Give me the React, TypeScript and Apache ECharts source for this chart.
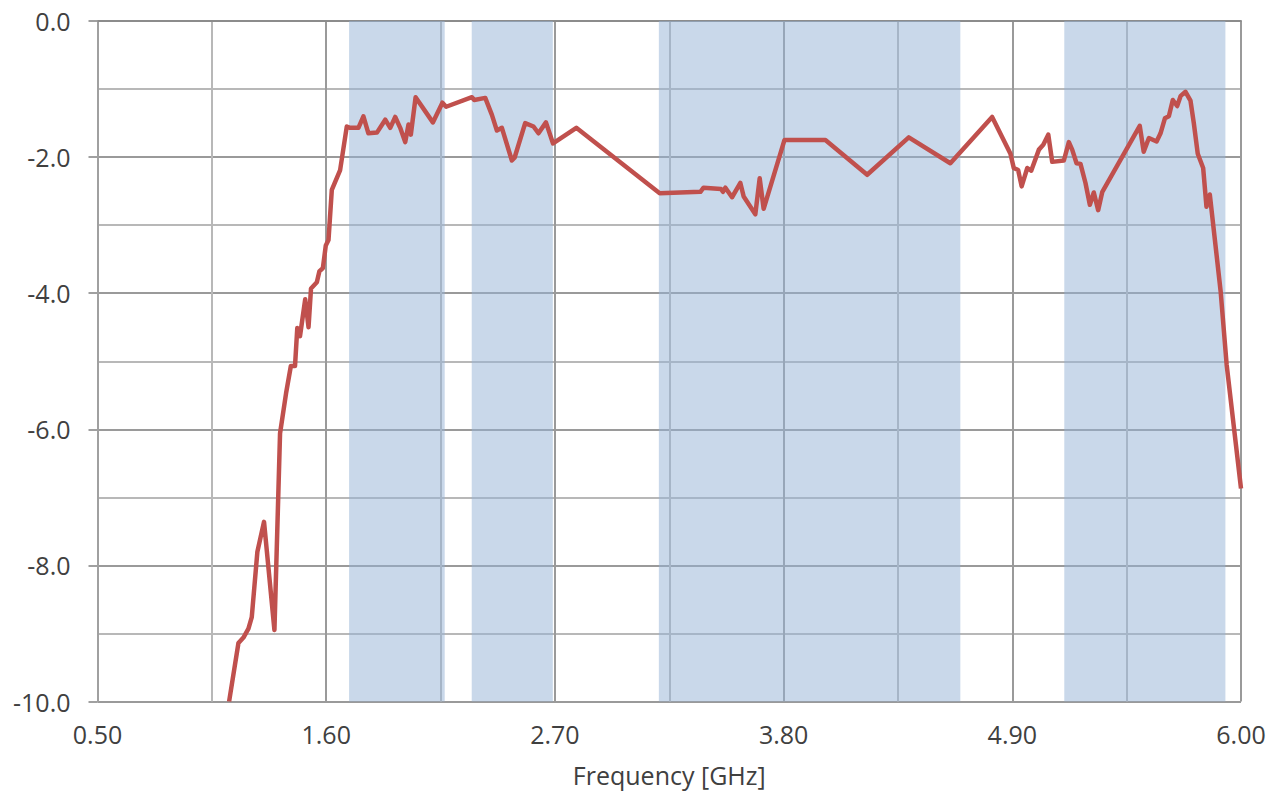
import React, { useEffect, useRef } from "react";
import * as echarts from "echarts";

const freqGHz = [
  1.133, 1.178, 1.202, 1.226, 1.242, 1.269, 1.301, 1.351, 1.378, 1.407, 1.43, 1.45, 1.461, 1.474, 1.499,
  1.515, 1.527, 1.555, 1.567, 1.584, 1.598, 1.611, 1.627, 1.667, 1.699, 1.715, 1.755, 1.779, 1.803, 1.844,
  1.884, 1.908, 1.932, 1.956, 1.98, 1.996, 2.007, 2.03, 2.113, 2.159, 2.177, 2.301, 2.312, 2.365, 2.397,
  2.421, 2.445, 2.493, 2.506, 2.557, 2.597, 2.621, 2.657, 2.691, 2.803, 3.204, 3.4, 3.415, 3.499, 3.508,
  3.52, 3.552, 3.592, 3.608, 3.664, 3.685, 3.704, 3.804, 4.001, 4.202, 4.402, 4.602, 4.803, 4.891, 4.907,
  4.928, 4.945, 4.972, 4.991, 5.028, 5.049, 5.073, 5.092, 5.148, 5.172, 5.188, 5.209, 5.228, 5.252, 5.273,
  5.292, 5.313, 5.333, 5.513, 5.532, 5.557, 5.594, 5.613, 5.634, 5.653, 5.672, 5.693, 5.71, 5.733, 5.757,
  5.773, 5.792, 5.818, 5.834, 5.85, 5.902, 5.931, 6.0,
];

const gainDb = [
  -10.0, -9.14, -9.06, -8.93, -8.76, -7.8, -7.36, -8.95, -6.06, -5.47, -5.07, -5.07, -4.51, -4.63, -4.09,
  -4.5, -3.93, -3.84, -3.68, -3.63, -3.3, -3.22, -2.48, -2.19, -1.55, -1.57, -1.57, -1.4, -1.65, -1.64,
  -1.45, -1.57, -1.41, -1.57, -1.78, -1.52, -1.67, -1.12, -1.49, -1.2, -1.26, -1.12, -1.16, -1.13, -1.38,
  -1.61, -1.57, -2.05, -2.01, -1.5, -1.55, -1.65, -1.49, -1.8, -1.57, -2.53, -2.51, -2.45, -2.47, -2.51,
  -2.45, -2.59, -2.38, -2.58, -2.84, -2.31, -2.76, -1.75, -1.75, -2.26, -1.71, -2.09, -1.41, -1.95, -2.16,
  -2.19, -2.43, -2.16, -2.2, -1.89, -1.82, -1.67, -2.07, -2.05, -1.78, -1.89, -2.09, -2.1, -2.38, -2.7,
  -2.52, -2.78, -2.51, -1.54, -1.92, -1.72, -1.77, -1.65, -1.43, -1.4, -1.16, -1.25, -1.1, -1.04, -1.17,
  -1.5, -1.95, -2.16, -2.73, -2.55, -3.97, -5.05, -6.87,
];

const bandStarts = [1.71, 2.3, 3.2, 5.15];
const bandEnds = [2.17, 2.69, 4.65, 5.925];

const xMin = 0.5;
const xMax = 6.0;
const xStep = 1.1;
const yMin = -10;
const yMax = 0;
const yStep = 2;

const FONT = "'Open Sans', 'Noto Sans', sans-serif";
const TEXT = "#404040";

export default function App() {
  const ref = useRef<HTMLDivElement>(null);

  useEffect(() => {
    if (!ref.current) return;
    const chart = echarts.init(ref.current, undefined, { renderer: "svg" });
    const data = freqGHz.map((f, i) => [f, gainDb[i]]);
    const areas = bandStarts.map((s, i) => [{ xAxis: s }, { xAxis: bandEnds[i] }]);

    chart.setOption({
      animation: false,
      backgroundColor: "#ffffff",
      textStyle: { fontFamily: FONT },
      grid: { left: 97.5, right: 37, top: 21, bottom: 96.5, containLabel: false },
      xAxis: {
        type: "value",
        min: xMin,
        max: xMax,
        interval: xStep,
        name: "Frequency [GHz]",
        nameLocation: "middle",
        nameGap: 61,
        nameTextStyle: { fontSize: 25, color: TEXT, fontFamily: FONT },
        axisLine: { show: true, lineStyle: { color: "#8c8c8c", width: 2 } },
        axisTick: { show: false },
        axisLabel: {
          fontSize: 25,
          color: TEXT,
          fontFamily: FONT,
          margin: 20,
          showMinLabel: true,
          showMaxLabel: true,
          formatter: (v: number) => v.toFixed(2),
        },
        splitLine: { show: true, lineStyle: { color: "#9a9a9a", width: 2 } },
        minorTick: { show: false, splitNumber: 2 },
        minorSplitLine: { show: true, lineStyle: { color: "#b8b8b8", width: 2 } },
      },
      yAxis: {
        type: "value",
        min: yMin,
        max: yMax,
        interval: yStep,
        axisLine: { show: true, lineStyle: { color: "#a0a0a0", width: 2 } },
        axisTick: { show: true, length: 9, lineStyle: { color: "#a0a0a0", width: 2 } },
        axisLabel: {
          fontSize: 25,
          color: TEXT,
          fontFamily: FONT,
          margin: 27,
          formatter: (v: number) => v.toFixed(1),
        },
        splitLine: { show: true, lineStyle: { color: "#9a9a9a", width: 2 } },
        minorTick: { show: false, splitNumber: 2 },
        minorSplitLine: { show: true, lineStyle: { color: "#b8b8b8", width: 2 } },
      },
      series: [
        {
          type: "line",
          data,
          showSymbol: false,
          symbol: "none",
          lineStyle: { color: "#c0504d", width: 4.5, join: "round" },
          z: 5,
          markArea: {
            silent: true,
            itemStyle: { color: "rgba(147,177,213,0.5)" },
            data: areas,
          },
        },
      ],
    });

    return () => chart.dispose();
  }, []);

  return (
    <div
      ref={ref}
      style={{ position: "absolute", left: 0, top: 0, width: 1278, height: 798 }}
    />
  );
}
